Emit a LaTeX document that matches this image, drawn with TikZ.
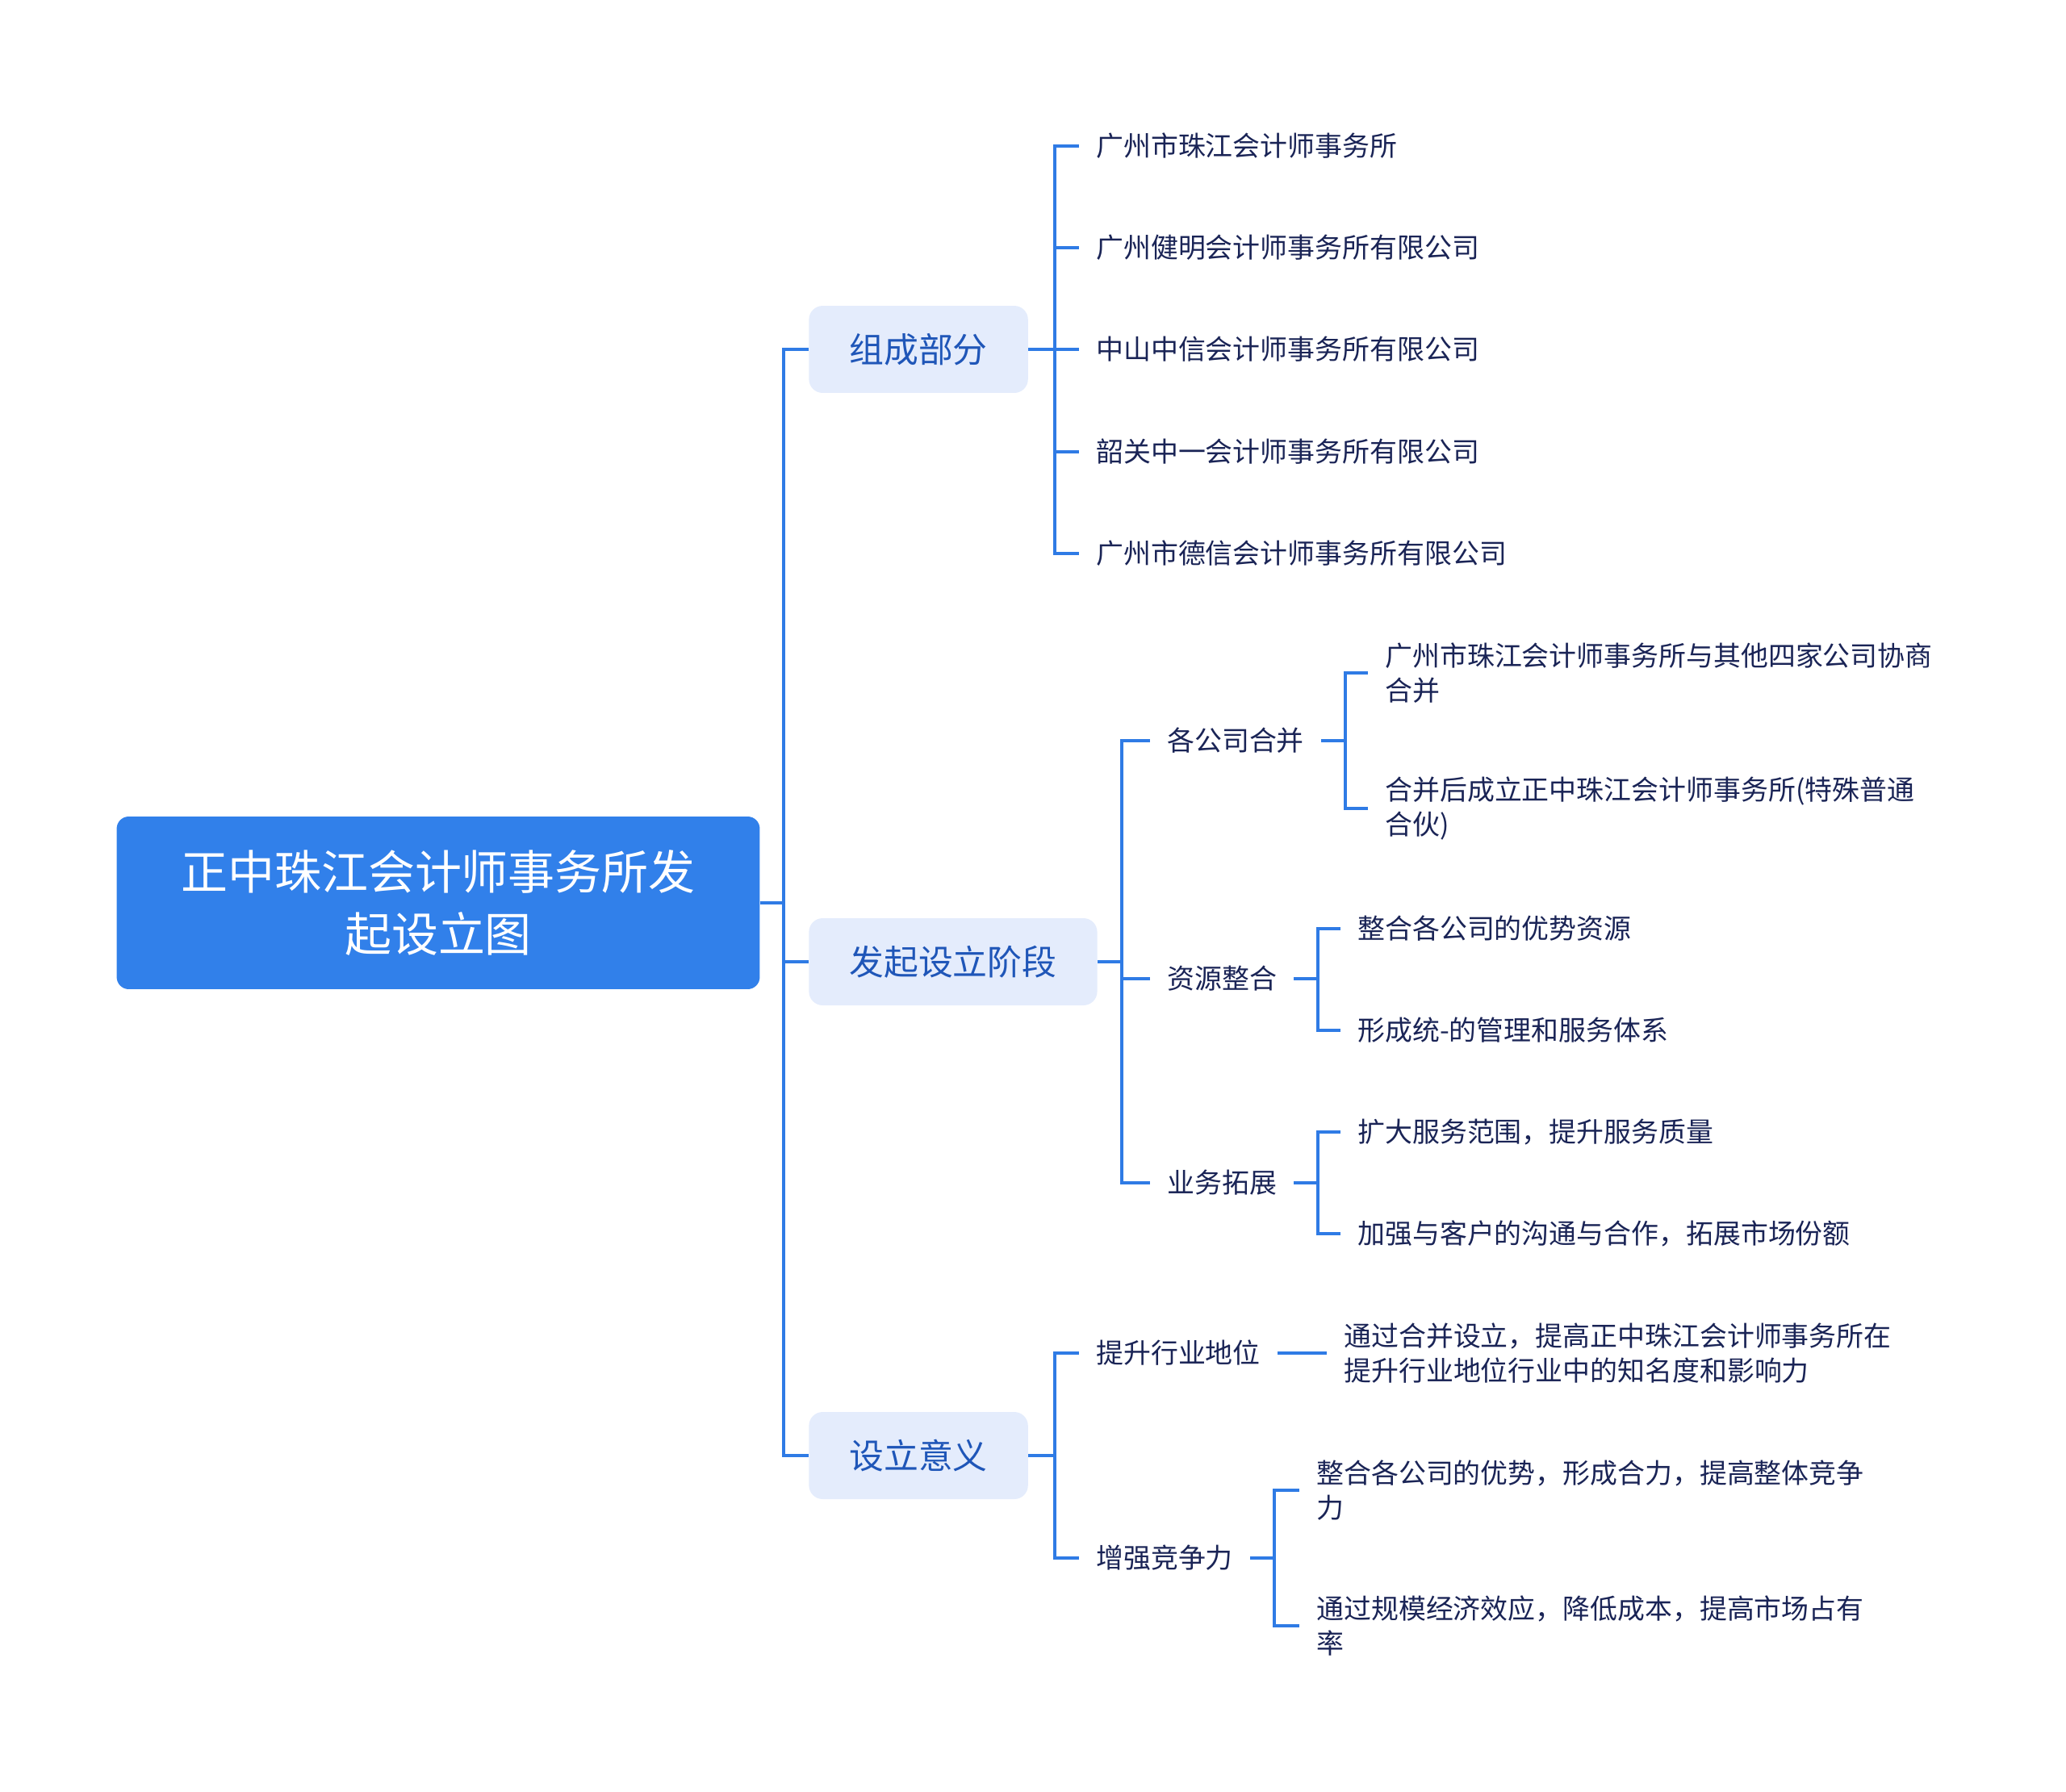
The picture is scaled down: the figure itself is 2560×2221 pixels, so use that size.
\documentclass[tikz,border=0pt]{standalone}
\usepackage{fontspec}
\setmainfont{Noto Sans CJK SC}
\usetikzlibrary{positioning}
\definecolor{zzblue}{HTML}{3180EA}
\definecolor{zzline}{HTML}{2F7BE5}
\definecolor{zzpale}{HTML}{E4ECFC}
\definecolor{zzmid}{HTML}{1F56B8}
\definecolor{zzdark}{HTML}{1A2456}

\begin{document}
\begin{tikzpicture}[x=0.02cm, y=-0.02cm,
    every node/.style={font=\fontsize{19.3pt}{24.4pt}\selectfont, text=zzdark},
    rootbox/.style={fill=zzblue, rounded corners=0.3cm, minimum width=15.94cm, minimum height=4.28cm,
      align=center, text=white, font=\fontsize{33pt}{44pt}\selectfont},
    topicbox/.style={anchor=west, fill=zzpale, rounded corners=0.34cm, minimum height=2.16cm,
      inner xsep=1.0cm, text=zzmid, font=\fontsize{24.4pt}{30pt}\selectfont},
    leaf/.style={anchor=west, inner xsep=0.42cm, inner ysep=0.1cm, align=left},
    link/.style={draw=zzline, line width=0.085cm}]
    \useasboundingbox (0,0) rectangle (2560,2221);

    % root and main topics
    \node[rootbox] (root) at (543,1119) {正中珠江会计师事务所发\\起设立图};
    \node[topicbox] (parts) at (1002,433) {组成部分};
    \node[topicbox] (stage) at (1002,1192) {发起设立阶段};
    \node[topicbox] (sense) at (1002,1804) {设立意义};

    % 组成部分
    \node[leaf] (p1) at (1337,181) {广州市珠江会计师事务所};
    \node[leaf] (p2) at (1337,307) {广州健明会计师事务所有限公司};
    \node[leaf] (p3) at (1337,433) {中山中信会计师事务所有限公司};
    \node[leaf] (p4) at (1337,560) {韶关中一会计师事务所有限公司};
    \node[leaf] (p5) at (1337,686) {广州市德信会计师事务所有限公司};

    % 发起设立阶段
    \node[leaf] (merge) at (1425,918) {各公司合并};
    \node[leaf] (pool) at (1425,1213) {资源整合};
    \node[leaf] (grow) at (1425,1466) {业务拓展};
    \node[leaf] (m1) at (1695,834) {广州市珠江会计师事务所与其他四家公司协商\\合并};
    \node[leaf] (m2) at (1695,1002) {合并后成立正中珠江会计师事务所(特殊普通\\合伙)};
    \node[leaf] (r1) at (1661,1151) {整合各公司的优势资源};
    \node[leaf] (r2) at (1661,1277) {形成统-的管理和服务体系};
    \node[leaf] (g1) at (1661,1403) {扩大服务范围，提升服务质量};
    \node[leaf] (g2) at (1661,1529) {加强与客户的沟通与合作，拓展市场份额};

    % 设立意义
    \node[leaf] (rank) at (1337,1677) {提升行业地位};
    \node[leaf] (edge) at (1337,1931) {增强竞争力};
    \node[leaf] (k1) at (1644,1677) {通过合并设立，提高正中珠江会计师事务所在\\提升行业地位行业中的知名度和影响力};
    \node[leaf] (e1) at (1610,1847) {整合各公司的优势，形成合力，提高整体竞争\\力};
    \node[leaf] (e2) at (1610,2015) {通过规模经济效应，降低成本，提高市场占有\\率};

    % connectors
    \foreach \t in {parts,stage,sense}
      \draw[link] (root.east) -- ++(29,0) |- (\t.west);
    \foreach \t in {p1,p2,p3,p4,p5}
      \draw[link] (parts.east) -- ++(33,0) |- (\t.west);
    \foreach \t in {merge,pool,grow}
      \draw[link] (stage.east) -- ++(30,0) |- (\t.west);
    \foreach \t in {m1,m2}
      \draw[link] (merge.east) -- ++(30,0) |- (\t.west);
    \foreach \t in {r1,r2}
      \draw[link] (pool.east) -- ++(30,0) |- (\t.west);
    \foreach \t in {g1,g2}
      \draw[link] (grow.east) -- ++(30,0) |- (\t.west);
    \foreach \t in {rank,edge}
      \draw[link] (sense.east) -- ++(33,0) |- (\t.west);
    \draw[link] (rank.east) -- (rank.east -| k1.west);
    \foreach \t in {e1,e2}
      \draw[link] (edge.east) -- ++(30,0) |- (\t.west);
\end{tikzpicture}
\end{document}
